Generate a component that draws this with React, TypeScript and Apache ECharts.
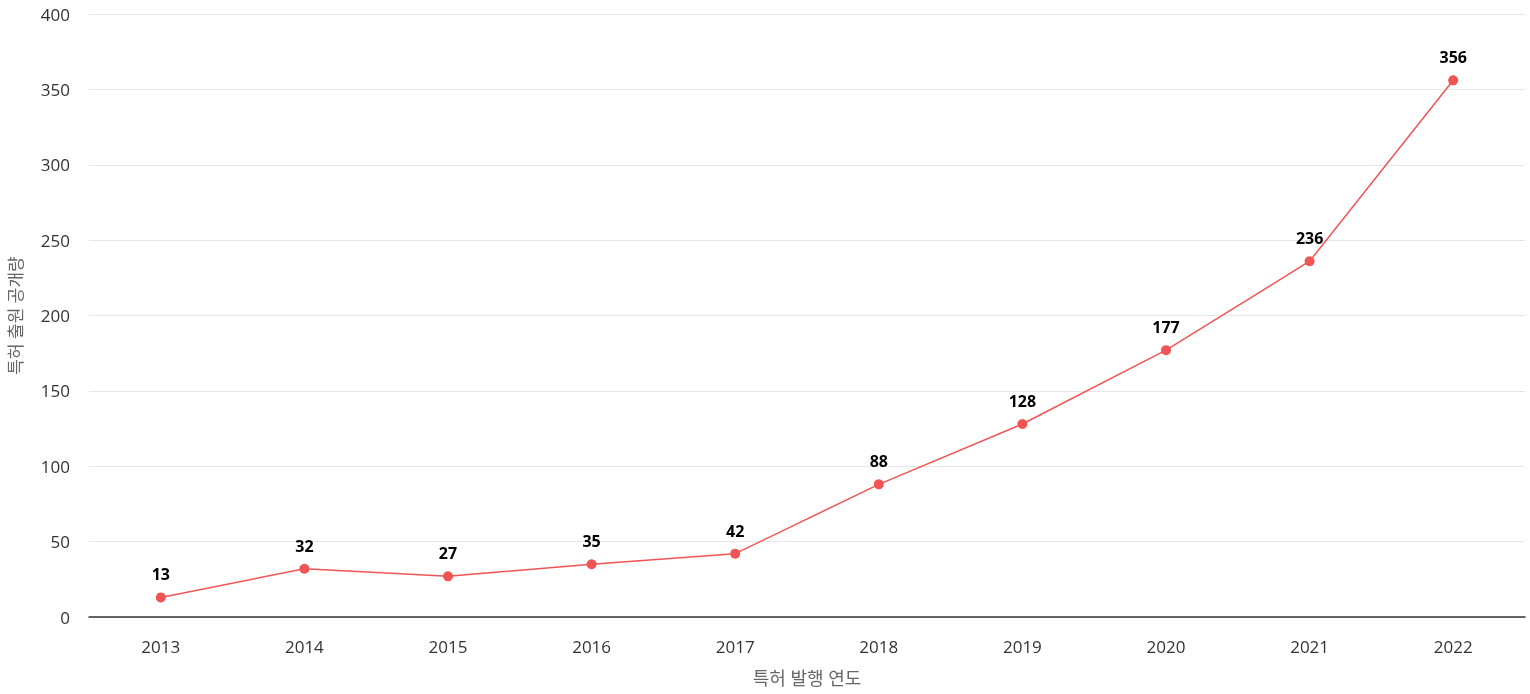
import React, { useEffect, useRef } from "react";
import * as echarts from "echarts";

const years = ["2013", "2014", "2015", "2016", "2017", "2018", "2019", "2020", "2021", "2022"];
const counts = [13, 32, 27, 35, 42, 88, 128, 177, 236, 356];
const xName = "특허 발행 연도";
const yName = "특허 출원 공개량";

const FONT = "'Open Sans', 'Noto Sans CJK KR', sans-serif";

export default function App() {
  const ref = useRef<HTMLDivElement>(null);
  useEffect(() => {
    if (!ref.current) return;
    const chart = echarts.init(ref.current, undefined, { renderer: "svg" });
    chart.setOption({
      animation: false,
      textStyle: { fontFamily: FONT },
      grid: { left: 89, right: 5, top: 14, bottom: 77, containLabel: false, outerBoundsMode: "none" },
      xAxis: {
        type: "category",
        data: years,
        boundaryGap: true,
        name: xName,
        nameLocation: "middle",
        nameGap: 52,
        nameTextStyle: { fontFamily: FONT, fontSize: 18, color: "#666" },
        axisLine: { lineStyle: { color: "#333", width: 1.5 } },
        axisTick: { show: false },
        axisLabel: { fontFamily: FONT, fontSize: 17, color: "#333", margin: 21 },
      },
      yAxis: {
        type: "value",
        min: 0,
        max: 400,
        interval: 50,
        name: yName,
        nameLocation: "middle",
        nameGap: 65,
        nameTextStyle: { fontFamily: FONT, fontSize: 17, color: "#666" },
        axisLine: { show: false },
        axisTick: { show: false },
        axisLabel: { fontFamily: FONT, fontSize: 17, color: "#333", margin: 19 },
        splitLine: { lineStyle: { color: "#e6e6e6" } },
      },
      series: [
        {
          type: "line",
          data: counts,
          symbol: "circle",
          symbolSize: 10,
          itemStyle: { color: "#f05454" },
          lineStyle: { color: "#f05454", width: 1.5 },
          label: {
            show: true,
            position: "top",
            distance: 10,
            fontFamily: FONT,
            fontSize: 16,
            fontWeight: "bold",
            color: "#000",
          },
        },
      ],
    });
    return () => chart.dispose();
  }, []);
  return <div ref={ref} style={{ width: 1530, height: 694, position: "fixed", left: 0, top: 0 }} />;
}
